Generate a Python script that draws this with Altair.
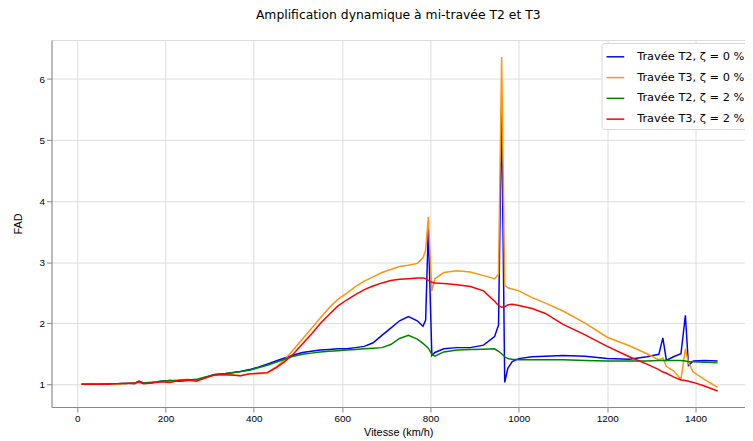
import altair as alt
import pandas as pd

speed = [10, 30, 50, 70, 90, 110, 130, 140, 150, 170, 190, 210, 230, 250, 270, 290,
         310, 330, 350, 370, 390, 410, 430, 450, 470, 490, 510, 530, 550, 570, 590,
         610, 630, 650, 670, 690, 710, 730, 750, 770, 783, 789, 795, 803, 810, 830,
         860, 890, 920, 945, 954, 961, 968, 975, 985, 1000, 1030, 1060, 1100, 1150,
         1200, 1250, 1290, 1317, 1326, 1334, 1350, 1367, 1377, 1384, 1395, 1420, 1450]

t2_z0 = [1.00, 1.00, 1.00, 1.01, 1.01, 1.02, 1.01, 1.05, 1.02, 1.03, 1.05, 1.06, 1.05, 1.06, 1.07, 1.11,
         1.16, 1.17, 1.19, 1.21, 1.24, 1.28, 1.33, 1.38, 1.43, 1.48, 1.52, 1.54, 1.56, 1.57, 1.58,
         1.58, 1.60, 1.62, 1.68, 1.80, 1.92, 2.04, 2.11, 2.04, 1.95, 2.05, 3.55, 1.47, 1.52, 1.58,
         1.60, 1.60, 1.64, 1.78, 1.97, 5.55, 1.03, 1.26, 1.37, 1.42, 1.45, 1.46, 1.47, 1.46,
         1.42, 1.41, 1.45, 1.49, 1.76, 1.39, 1.45, 1.50, 2.13, 1.31, 1.38, 1.39, 1.38]

t3_z0 = [1.00, 1.00, 1.00, 1.01, 1.00, 1.02, 1.01, 1.03, 1.02, 1.04, 1.04, 1.05, 1.07, 1.08, 1.06, 1.11,
         1.15, 1.15, 1.15, 1.14, 1.17, 1.17, 1.18, 1.28, 1.40, 1.57, 1.74, 1.91, 2.08, 2.25, 2.39,
         2.49, 2.60, 2.69, 2.76, 2.83, 2.88, 2.93, 2.95, 2.98, 3.07, 3.20, 3.74, 2.53, 2.73, 2.83,
         2.86, 2.84, 2.78, 2.73, 2.80, 6.36, 2.62, 2.58, 2.56, 2.53, 2.42, 2.33, 2.20, 2.00,
         1.77, 1.63, 1.50, 1.40, 1.43, 1.29, 1.22, 1.08, 1.58, 1.35, 1.20, 1.08, 0.95]

t2_z2 = [1.00, 1.00, 1.00, 1.01, 1.01, 1.01, 1.02, 1.04, 1.02, 1.03, 1.05, 1.06, 1.06, 1.07, 1.08, 1.12,
         1.15, 1.17, 1.19, 1.21, 1.23, 1.27, 1.31, 1.36, 1.41, 1.46, 1.49, 1.51, 1.53, 1.54, 1.55,
         1.56, 1.57, 1.58, 1.59, 1.60, 1.65, 1.75, 1.80, 1.74, 1.67, 1.63, 1.59, 1.49, 1.46, 1.53,
         1.56, 1.57, 1.575, 1.58, 1.54, 1.50, 1.45, 1.42, 1.41, 1.40, 1.40, 1.40, 1.40, 1.39,
         1.38, 1.38, 1.38, 1.39, 1.39, 1.39, 1.39, 1.39, 1.38, 1.37, 1.37, 1.36, 1.35]

t3_z2 = [1.00, 1.00, 1.00, 1.00, 1.01, 1.01, 1.02, 1.04, 1.01, 1.02, 1.04, 1.03, 1.06, 1.07, 1.05, 1.10,
         1.15, 1.16, 1.15, 1.14, 1.17, 1.18, 1.19, 1.27, 1.37, 1.50, 1.66, 1.82, 1.99, 2.14, 2.28,
         2.38, 2.47, 2.55, 2.61, 2.66, 2.70, 2.72, 2.73, 2.74, 2.74, 2.73, 2.70, 2.67, 2.66, 2.65,
         2.63, 2.60, 2.53, 2.36, 2.29, 2.26, 2.27, 2.30, 2.31, 2.29, 2.24, 2.16, 1.98, 1.81,
         1.62, 1.45, 1.33, 1.24, 1.20, 1.18, 1.12, 1.07, 1.06, 1.05, 1.03, 0.97, 0.89]

labels = ["Travée T2, ζ = 0 %", "Travée T3, ζ = 0 %", "Travée T2, ζ = 2 %", "Travée T3, ζ = 2 %"]
colors = ["#0000ff", "#ff9410", "#008000", "#ff0000"]
x_ticks = [0, 200, 400, 600, 800, 1000, 1200, 1400]
y_ticks = [1, 2, 3, 4, 5, 6]

rows = []
for i, (lab, vals) in enumerate(zip(labels, [t2_z0, t3_z0, t2_z2, t3_z2])):
    for s, v in zip(speed, vals):
        rows.append({"speed": s, "fad": v, "serie": lab, "k": i})
df = pd.DataFrame(rows)

font = "DejaVu Sans"

chart = alt.Chart(df).mark_line(strokeWidth=1.5, clip=True).encode(
    x=alt.X("speed:Q",
            scale=alt.Scale(domain=[-58, 1512], nice=False, zero=False),
            axis=alt.Axis(values=x_ticks, format="d", title="Vitesse (km/h)",
                          titleFontWeight="normal", titlePadding=3)),
    y=alt.Y("fad:Q",
            scale=alt.Scale(domain=[0.627, 6.64], nice=False, zero=False),
            axis=alt.Axis(values=y_ticks, format="d", title="FAD",
                          titleFontWeight="normal", titlePadding=16)),
    color=alt.Color("serie:N",
                    scale=alt.Scale(domain=labels, range=colors),
                    sort=labels,
                    legend=alt.Legend(title=None, orient="none", legendX=556, legendY=3,
                                      symbolType="stroke", symbolSize=320, symbolStrokeWidth=1.5,
                                      labelFont=font, labelFontSize=11.5, labelColor="#000000",
                                      rowPadding=5, labelOffset=12,
                                      fillColor="#ffffff", strokeColor="#d8d8d8",
                                      cornerRadius=3, padding=4, labelLimit=300)),
    detail="k:N",
).properties(
    width=701, height=371,
    title=alt.TitleParams("Amplification dynamique à mi-travée T2 et T3", font=font,
                          fontSize=12.5, fontWeight="normal", color="#000000",
                          anchor="middle", offset=19),
    autosize="none",
    padding={"left": 44, "top": 30, "right": 0, "bottom": 30},
).configure_view(
    stroke="#8a8a8a", strokeWidth=1.2
).configure_axis(
    labelFont=font, labelFontSize=10, labelColor="#222222",
    titleFont=font, titleFontSize=11, titleColor="#000000",
    grid=True, gridColor="#d0d0d0", gridWidth=1,
    domain=False, tickColor="#555555", tickSize=4, labelPadding=3,
).configure(background="#ffffff")

chart.save("out.html", embed_options={"renderer": "svg", "actions": False})
